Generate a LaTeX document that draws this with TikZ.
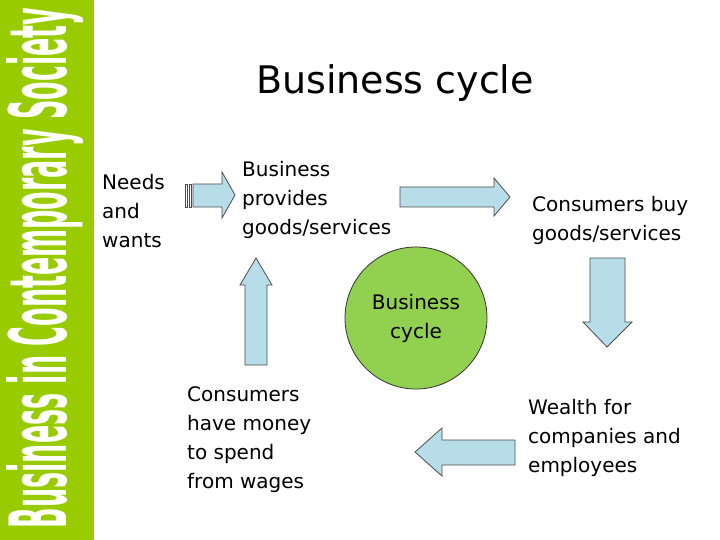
\documentclass[tikz,border=0pt]{standalone}
\usepackage{fontspec}
\setmainfont{DejaVu Sans}
\newfontfamily\condfont{DejaVu Sans Condensed}
\begin{document}
\begin{tikzpicture}[x=1pt,y=-1pt,
  arr/.style={fill=arrowblue,draw=black!70,line width=0.8pt},
  lbl/.style={font=\fontsize{20}{29}\selectfont,align=left,anchor=north west,inner sep=0pt}]
\definecolor{barg}{HTML}{99CC00}
\definecolor{arrowblue}{HTML}{B7DEE8}
\definecolor{cyc}{HTML}{92D050}
\useasboundingbox (0,0) rectangle (720,540);
\fill[white] (0,0) rectangle (720,540);
\fill[barg] (0,0) rectangle (94,540);
\node[rotate=90,text=white,inner sep=0] (side) at (45,268) {\resizebox{520pt}{60pt}{\condfont\bfseries Business in Contemporary Society}};
\node[font=\fontsize{38}{40}\selectfont] (title) at (395,83) {Business cycle};
% striped arrow
\node[inner sep=0] (sa) at (210,195) {};
\fill[white,draw=black!70,line width=0.6pt] (185,184) rectangle (187,207);
\fill[white,draw=black!70,line width=0.6pt] (189,184) rectangle (191,207);
\draw[arr] (193,184) -- (222,184) -- (222,172) -- (235,195) -- (222,218) -- (222,207) -- (193,207) -- cycle;
% top right arrow
\node[inner sep=0] (ta) at (455,197) {};
\draw[arr] (400,187) -- (494,187) -- (494,178) -- (510,197) -- (494,216) -- (494,207) -- (400,207) -- cycle;
% down arrow
\node[inner sep=0] (da) at (607,300) {};
\draw[arr] (590,258) -- (625,258) -- (625,322) -- (632,322) -- (607,347) -- (583,322) -- (590,322) -- cycle;
% left arrow
\node[inner sep=0] (la) at (465,452) {};
\draw[arr] (515,440) -- (442,440) -- (442,428) -- (415,452) -- (442,476) -- (442,465) -- (515,465) -- cycle;
% up arrow
\node[inner sep=0] (ua) at (256,310) {};
\draw[arr] (245,365) -- (245,285) -- (240,285) -- (256,258) -- (272,285) -- (267,285) -- (267,365) -- cycle;
% circle
\node[circle,fill=cyc,draw=black!80,line width=0.8pt,minimum size=142pt,align=center,font=\fontsize{20}{29}\selectfont,inner sep=0] (c) at (416,318) {Business\\cycle};
\node[lbl] (nw) at (102,174) {Needs\\and\\wants};
\node[lbl] (bp) at (242,161) {Business\\provides\\goods/services};
\node[lbl] (cb) at (532,196) {Consumers buy\\goods/services};
\node[lbl] (cm) at (187,386) {Consumers\\have money\\to spend\\from wages};
\node[lbl] (wf) at (528,399) {Wealth for\\companies and\\employees};
\end{tikzpicture}
\end{document}
